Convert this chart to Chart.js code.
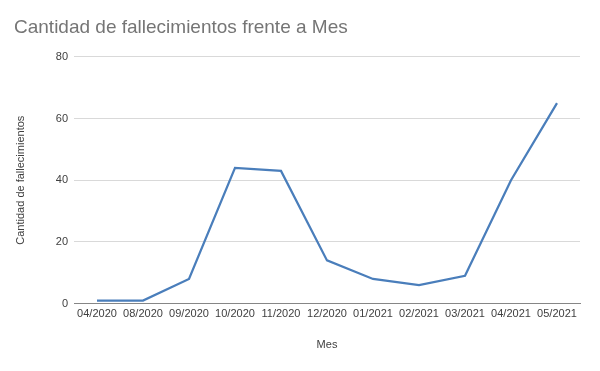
<!DOCTYPE html>
<html>
<head>
<meta charset="utf-8">
<script src="https://cdn.jsdelivr.net/npm/chart.js@4"></script>
<style>
  html, body { margin: 0; padding: 0; background: #fff; }
  #wrap { width: 600px; height: 371px; }
</style>
</head>
<body>
<div id="wrap"><canvas id="grafico" width="600" height="371"></canvas></div>
<script>
const meses = ['04/2020', '08/2020', '09/2020', '10/2020', '11/2020', '12/2020', '01/2021', '02/2021', '03/2021', '04/2021', '05/2021'];
const fallecimientos = [1, 1, 8, 44, 43, 14, 8, 6, 9, 40, 65];
const tituloGrafico = 'Cantidad de fallecimientos frente a Mes';
const tituloX = 'Mes';
const tituloY = 'Cantidad de fallecimientos';

const fuente = "'Liberation Sans', Arial, sans-serif";

const ctx = document.getElementById('grafico').getContext('2d');
new Chart(ctx, {
    type: 'line',
    data: {
        labels: meses,
        datasets: [{
            label: tituloY,
            data: fallecimientos,
            borderColor: '#4a7ebb',
            borderWidth: 2.25,
            pointRadius: 0,
            tension: 0,
            fill: false
        }]
    },
    options: {
        responsive: false,
        animation: false,
        layout: { padding: { left: 14, right: 20, top: 0, bottom: 19 } },
        plugins: {
            legend: { display: false },
            tooltip: { enabled: false },
            title: {
                display: true,
                text: tituloGrafico,
                align: 'start',
                color: '#757575',
                font: { family: fuente, size: 19, weight: 'normal' },
                padding: { top: 16, bottom: 18 }
            }
        },
        scales: {
            x: {
                offset: true,
                grid: { display: false, drawTicks: false },
                border: { color: '#868686', width: 1 },
                ticks: { color: '#404040', font: { family: fuente, size: 11 }, maxRotation: 0, autoSkip: false, padding: 4 },
                title: { display: true, text: tituloX, color: '#404040', font: { family: fuente, size: 11 }, padding: { top: 14, bottom: 0 } }
            },
            y: {
                min: 0,
                max: 80,
                ticks: { stepSize: 20, color: '#404040', font: { family: fuente, size: 11 }, padding: 6 },
                grid: { color: '#d9d9d9', drawTicks: false },
                border: { display: false },
                title: { display: true, text: tituloY, color: '#404040', font: { family: fuente, size: 11 }, padding: { top: 0, bottom: 16 } },
                afterFit: (escala) => { escala.width = 60; }
            }
        }
    }
});
</script>
</body>
</html>
